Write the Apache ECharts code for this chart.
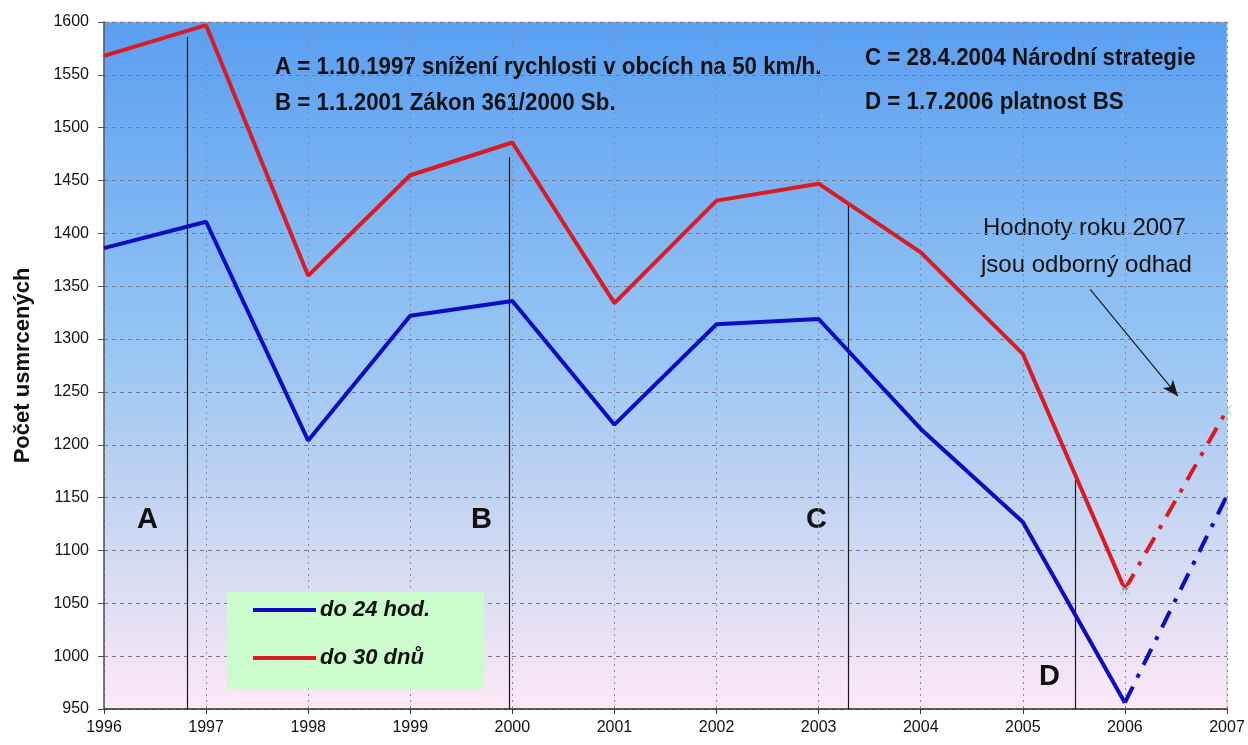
<!DOCTYPE html>
<html>
<head>
<meta charset="utf-8">
<script src="https://cdn.jsdelivr.net/npm/echarts@6/dist/echarts.min.js"></script>
<style>
html,body{margin:0;padding:0;background:#fff;}
#c{width:1248px;height:745px;}
</style>
</head>
<body>
<div id="c"></div>
<script>
// ---- data ----
var years = [1996, 1997, 1998, 1999, 2000, 2001, 2002, 2003, 2004, 2005, 2006];
var deaths24 = [1386, 1411, 1204, 1322, 1336, 1219, 1314, 1319, 1215, 1127, 956];
var deaths30 = [1568, 1597, 1360, 1455, 1486, 1334, 1431, 1447, 1382, 1286, 1063];
var estYears = [2006, 2007];
var est24 = [956, 1152];
var est30 = [1063, 1233];
var eventNames = ['A', 'B', 'C', 'D'];
var eventX = [1996.82, 1999.97, 2003.29, 2005.51];
var eventTop = [1586, 1472, 1427, 1172];
var seriesNames = ['do 24 hod.', 'do 30 dnů'];
var yTicks = {min: 950, max: 1600, step: 50};
var xTicks = {min: 1996, max: 2007, step: 1};
var notes = [
  'A = 1.10.1997 snížení rychlosti v obcích na 50 km/h.',
  'B = 1.1.2001 Zákon 361/2000 Sb.',
  'C = 28.4.2004 Národní strategie',
  'D = 1.7.2006 platnost BS'
];
var estNote = ['Hodnoty roku 2007', 'jsou odborný odhad'];
var arrowFrom = [2005.66, 1347];
var arrowTo = [2006.52, 1246];

function pairs(xs, ys) { return xs.map(function (x, i) { return [x, ys[i]]; }); }

var BLUE = '#0c0cc4';
var RED = '#dc1a22';
var SANS = '"Liberation Sans", Arial, sans-serif';

var chart = echarts.init(document.getElementById('c'));

var eventLines = eventX.map(function (x, i) {
  return [{coord: [x, yTicks.min]}, {coord: [x, eventTop[i]]}];
});

function note(text, x, yCenter, font, sx) {
  return {
    type: 'text', x: x, y: yCenter, scaleX: sx,
    style: {text: text, font: font, fill: '#111', textVerticalAlign: 'middle', verticalAlign: 'middle'}
  };
}

var option = {
  animation: false,
  backgroundColor: '#ffffff',
  grid: {
    left: 104, right: 21, top: 22, bottom: 36,
    show: true,
    borderColor: '#c8c8c8',
    borderWidth: 1,
    backgroundColor: new echarts.graphic.LinearGradient(0, 0, 0, 1, [
      {offset: 0, color: '#5a9ff2'},
      {offset: 0.45, color: '#93c3f3'},
      {offset: 0.75, color: '#cdd8f2'},
      {offset: 1, color: '#fde8f6'}
    ])
  },
  xAxis: {
    type: 'value',
    min: xTicks.min, max: xTicks.max, interval: xTicks.step,
    axisLine: {show: true, onZero: false, lineStyle: {color: '#333', width: 1.5}},
    axisTick: {show: true, length: 5, lineStyle: {color: '#333'}},
    axisLabel: {color: '#111', fontSize: 16, fontFamily: SANS, margin: 11,
      formatter: function (v) { return String(v); }},
    splitLine: {show: true, lineStyle: {color: '#8a8a9a', type: [2, 4], width: 1}}
  },
  yAxis: {
    type: 'value',
    min: yTicks.min, max: yTicks.max, interval: yTicks.step,
    name: 'Počet usmrcených',
    nameLocation: 'middle',
    nameGap: 70,
    nameTextStyle: {color: '#111', fontSize: 22, fontWeight: 'bold', fontFamily: SANS},
    axisLine: {show: true, lineStyle: {color: '#555', width: 1.5}},
    axisTick: {show: true, length: 6, lineStyle: {color: '#555'}},
    axisLabel: {color: '#111', fontSize: 16, fontFamily: SANS, margin: 15,
      formatter: function (v) { return String(v); }},
    splitLine: {show: true, lineStyle: {color: '#7a7a8a', type: [4, 4], width: 1}}
  },
  legend: {
    data: seriesNames,
    orient: 'vertical',
    left: 227, top: 592,
    backgroundColor: '#ccfccc',
    padding: [7, 54, 20, 26],
    itemGap: 26,
    itemWidth: 63, itemHeight: 4,
    icon: 'rect',
    textStyle: {fontSize: 22, fontStyle: 'italic', fontWeight: 'bold', color: '#111',
      fontFamily: SANS, padding: [0, 0, 0, -1]}
  },
  series: [
    {
      name: seriesNames[0], type: 'line', data: pairs(years, deaths24),
      symbol: 'none', lineStyle: {color: BLUE, width: 4}, itemStyle: {color: BLUE}, z: 5
    },
    {
      name: seriesNames[1], type: 'line', data: pairs(years, deaths30),
      symbol: 'none', lineStyle: {color: RED, width: 4}, itemStyle: {color: RED}, z: 5
    },
    {
      name: 'odhad 24', type: 'line', data: pairs(estYears, est24),
      symbol: 'none', lineStyle: {color: BLUE, width: 4, type: [18, 10, 4, 10]}, z: 5
    },
    {
      name: 'odhad 30', type: 'line', data: pairs(estYears, est30),
      symbol: 'path://M0,0L10,10M10,0L0,10', symbolSize: 9, showSymbol: true,
      itemStyle: {color: 'rgba(0,0,0,0)', borderColor: '#8fd8e8', borderWidth: 1.2},
      lineStyle: {color: RED, width: 4, type: [18, 10, 4, 10]}, z: 5
    },
    {
      name: 'udalosti', type: 'line', data: [],
      markLine: {
        silent: true, symbol: ['none', 'none'],
        lineStyle: {color: '#1a1a1a', width: 1.2, type: 'solid'},
        label: {show: false},
        data: eventLines.concat([[
          {coord: arrowFrom, symbol: 'none'},
          {coord: arrowTo, symbol: 'arrow', symbolSize: [10, 16]}
        ]])
      },
      z: 3
    }
  ],
  graphic: [
    note(eventNames[0], 137, 520, 'bold 29px ' + SANS, 1),
    note(eventNames[1], 471, 520, 'bold 29px ' + SANS, 1),
    note(eventNames[2], 806, 520, 'bold 29px ' + SANS, 1),
    note(eventNames[3], 1039, 677, 'bold 29px ' + SANS, 1),
    note(notes[0], 275, 67, 'bold 24px ' + SANS, 0.93),
    note(notes[1], 275, 103, 'bold 24px ' + SANS, 0.93),
    note(notes[2], 865, 58, 'bold 24px ' + SANS, 0.93),
    note(notes[3], 865, 102, 'bold 24px ' + SANS, 0.93),
    note(estNote[0], 983, 228, '24px ' + SANS, 1.0),
    note(estNote[1], 981, 265, '24px ' + SANS, 1.0)
  ]
};
chart.setOption(option);
</script>
</body>
</html>
